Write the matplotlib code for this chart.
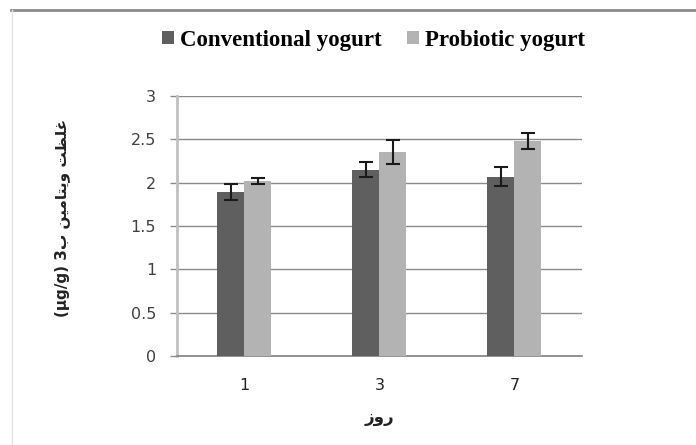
import matplotlib
matplotlib.use("Agg")
import matplotlib.pyplot as plt
from matplotlib.lines import Line2D
import numpy as np

# data
days = ["1", "3", "7"]
conventional = [1.89, 2.15, 2.07]
conventional_err = [0.095, 0.09, 0.11]
probiotic = [2.02, 2.35, 2.48]
probiotic_err = [0.03, 0.14, 0.095]
series_names = ["Conventional yogurt", "Probiotic yogurt"]
y_label = "غلظت ویتامین ب3 (µg/g)"
x_label = "روز"

# matplotlib has no arabic shaping, so map letters to presentation forms
# (isolated, final, initial, medial) and lay the text out visually
FORMS = {
    "ا": ("\uFE8D", "\uFE8E", None, None),
    "ب": ("\uFE8F", "\uFE90", "\uFE91", "\uFE92"),
    "ت": ("\uFE95", "\uFE96", "\uFE97", "\uFE98"),
    "ظ": ("\uFEC5", "\uFEC6", "\uFEC7", "\uFEC8"),
    "غ": ("\uFECD", "\uFECE", "\uFECF", "\uFED0"),
    "ل": ("\uFEDD", "\uFEDE", "\uFEDF", "\uFEE0"),
    "م": ("\uFEE1", "\uFEE2", "\uFEE3", "\uFEE4"),
    "ن": ("\uFEE5", "\uFEE6", "\uFEE7", "\uFEE8"),
    "و": ("\uFEED", "\uFEEE", None, None),
    "ر": ("\uFEAD", "\uFEAE", None, None),
    "ز": ("\uFEAF", "\uFEB0", None, None),
    "ی": ("\uFBFC", "\uFBFD", "\uFBFE", "\uFBFF"),
}


def shape_word(word):
    out = []
    for i, ch in enumerate(word):
        if ch not in FORMS:
            out.append(ch)
            continue
        prev = word[i - 1] if i > 0 else None
        nxt = word[i + 1] if i + 1 < len(word) else None
        joins_prev = prev in FORMS and FORMS[prev][2] is not None
        joins_next = nxt in FORMS and FORMS[ch][2] is not None
        iso, fin, ini, med = FORMS[ch]
        if joins_prev and joins_next:
            out.append(med)
        elif joins_prev:
            out.append(fin)
        elif joins_next:
            out.append(ini)
        else:
            out.append(iso)
    return "".join(out[::-1])


def visual(text):
    # split into arabic words and latin/number runs, reverse run order (RTL)
    runs = []
    for token in text.split(" "):
        if any(c in FORMS for c in token):
            ar = "".join(c for c in token if c in FORMS)
            rest = "".join(c for c in token if c not in FORMS)
            runs.append(rest + shape_word(ar) if rest else shape_word(ar))
        else:
            runs.append(token)
    return " ".join(runs[::-1])


fig = plt.figure(figsize=(6.96, 4.45), dpi=100)
ax = fig.add_axes([0.2543, 0.2, 0.5819, 0.5843])

x = np.arange(len(days))
w = 0.2
ax.bar(x - w / 2, conventional, w, color="#5f5f5f", label=series_names[0],
       yerr=conventional_err, capsize=5,
       error_kw=dict(ecolor="#1a1a1a", elinewidth=1.5, capthick=1.5), zorder=3)
ax.bar(x + w / 2, probiotic, w, color="#b3b3b3", label=series_names[1],
       yerr=probiotic_err, capsize=5,
       error_kw=dict(ecolor="#1a1a1a", elinewidth=1.5, capthick=1.5), zorder=3)

ax.set_xlim(-0.5, 2.5)
ax.set_ylim(0, 3)
ax.set_yticks(np.arange(0, 3.01, 0.5))
ax.set_yticklabels(["0", "0.5", "1", "1.5", "2", "2.5", "3"])
ax.set_xticks(x)
ax.set_xticklabels(days)

ax.grid(axis="y", color="#8a8a8a", linewidth=1, zorder=0)
for s in ["top", "right"]:
    ax.spines[s].set_visible(False)
ax.spines["left"].set_color("#c0c0c0")
ax.spines["left"].set_linewidth(2)
ax.spines["bottom"].set_color("#8a8a8a")
ax.spines["bottom"].set_linewidth(1.3)

ax.tick_params(axis="y", length=5, color="#8a8a8a", width=1, pad=10,
               labelsize=11.5, labelcolor="#404040")
ax.tick_params(axis="x", length=0, pad=16, labelsize=11.5, labelcolor="#222222")
for lab in ax.get_yticklabels() + ax.get_xticklabels():
    lab.set_family("DejaVu Sans")

ax.set_xlabel(visual(x_label), fontsize=12, fontweight="bold", family="DejaVu Sans",
              color="#222222")
ax.xaxis.set_label_coords(0.5, -0.2)
ax.set_ylabel(visual(y_label), fontsize=11, fontweight="bold", family="DejaVu Sans",
              color="#222222")
ax.yaxis.set_label_coords(-0.264, 0.53)

ax.legend(loc="center", bbox_to_anchor=(0.485, 1.215), ncol=2, frameon=False,
          prop=dict(family="Liberation Serif", weight="bold", size=16.5),
          handlelength=0.55, handleheight=0.55, handletextpad=0.25,
          columnspacing=1.1, borderaxespad=0)

# chart area frame (top line and faint left edge)
fig.add_artist(Line2D([11 / 696, 1], [1 - 10 / 445, 1 - 10 / 445],
                      transform=fig.transFigure, color="#8c8c8c", linewidth=2))
fig.add_artist(Line2D([12 / 696, 12 / 696], [0, 1 - 10 / 445],
                      transform=fig.transFigure, color="#e2e2e2", linewidth=1))

fig.savefig("out.png", dpi=100)
